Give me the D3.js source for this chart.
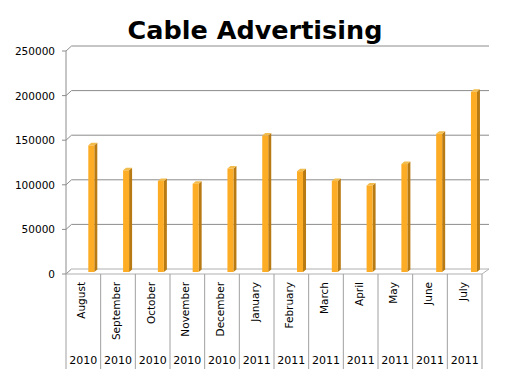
<!DOCTYPE html>
<html><head><meta charset="utf-8">
<script src="https://cdn.jsdelivr.net/npm/d3@7"></script>
<style>body{margin:0;background:#fff}svg{display:block}</style>
</head><body>
<svg id="c" width="520" height="379"></svg>
<script>
const months = ["August","September","October","November","December","January","February","March","April","May","June","July"];
const years = ["2010","2010","2010","2010","2010","2011","2011","2011","2011","2011","2011","2011"];
const values = [142000,114000,102000,99000,116000,153000,113000,102000,97000,121000,155000,202000];
const yTicks = [0,50000,100000,150000,200000,250000];
const title = "Cable Advertising";

const svg = d3.select("#c");
const font = "DejaVu Sans, Verdana, sans-serif";
const dx = 5.5, dy = 5; // depth of the 3D floor
const backLeft = 71.5, backRight = 489;
const y = d3.scaleLinear().domain([0,250000]).range([269,46]);
const x = d3.scaleBand().domain(d3.range(months.length)).range([66,482]).padding(0);
const yBar = d3.scaleLinear().domain([0,250000]).range([272,49]);

svg.append("text").attr("x",255).attr("y",39).attr("text-anchor","middle")
  .attr("font-family",font).attr("font-weight","bold").attr("font-size",25.5).attr("fill","#000").text(title);

const grid = svg.append("g");
yTicks.forEach(t=>{
  const yb = y(t), yf = yb+dy;
  if(t>0) grid.append("line").attr("x1",backLeft).attr("x2",backRight).attr("y1",yb).attr("y2",yb).attr("stroke","#8c8c8c").attr("stroke-width",1);
  grid.append("line").attr("x1",backLeft-dx).attr("x2",backLeft).attr("y1",yf).attr("y2",yb).attr("stroke","#8c8c8c");
  grid.append("line").attr("x1",backLeft-dx-4).attr("x2",backLeft-dx).attr("y1",yf).attr("y2",yf).attr("stroke","#8c8c8c");
  grid.append("text").attr("x",55).attr("y",yf+4).attr("text-anchor","end")
    .attr("font-family",font).attr("font-size",10.5).attr("fill","#000").text(t);
});
// front vertical axis
grid.append("line").attr("x1",backLeft-dx).attr("x2",backLeft-dx).attr("y1",y(250000)+dy).attr("y2",y(0)+dy).attr("stroke","#8c8c8c");
// floor
const fl = svg.append("g").attr("stroke","#b0b0b0").attr("fill","none");
fl.append("line").attr("x1",backLeft).attr("x2",backRight).attr("y1",y(0)).attr("y2",y(0));
fl.append("line").attr("x1",x.range()[0]).attr("x2",x.range()[1]).attr("y1",y(0)+dy).attr("y2",y(0)+dy);
fl.append("line").attr("x1",x.range()[1]).attr("x2",backRight).attr("y1",y(0)+dy).attr("y2",y(0));

// bars
const bw = 6, sd = 3, sdy = 2.5;
const bars = svg.append("g");
values.forEach((v,i)=>{
  const x0 = x(i) + 22.3 + i*0.12;
  const yt = yBar(v), yb = yBar(0);
  bars.append("path").attr("d",`M${x0+bw},${yt}L${x0+bw+sd},${yt-sdy}L${x0+bw+sd},${yb-sdy}L${x0+bw},${yb}Z`).attr("fill","#b87a12");
  bars.append("path").attr("d",`M${x0},${yt}L${x0+sd},${yt-sdy}L${x0+bw+sd},${yt-sdy}L${x0+bw},${yt}Z`).attr("fill","#f2bc4c");
  bars.append("rect").attr("x",x0).attr("y",yt).attr("width",bw).attr("height",yb-yt).attr("fill","#fdad25");
});

// category dividers and labels
const cat = svg.append("g");
d3.range(months.length+1).forEach(i=>{
  const xx = i<months.length ? x(i) : x.range()[1];
  cat.append("line").attr("x1",xx).attr("x2",xx).attr("y1",y(0)+dy).attr("y2",369).attr("stroke","#a0a0a0");
});
months.forEach((m,i)=>{
  const cx = x(i)+x.bandwidth()/2+2;
  cat.append("text").attr("transform",`translate(${cx},282) rotate(-90)`).attr("text-anchor","end")
    .attr("font-family",font).attr("font-size",10.5).attr("fill","#000").text(m);
  cat.append("text").attr("x",x(i)+x.bandwidth()/2).attr("y",364).attr("text-anchor","middle")
    .attr("font-family",font).attr("font-size",11).attr("fill","#000").text(years[i]);
});
</script>
</body></html>
